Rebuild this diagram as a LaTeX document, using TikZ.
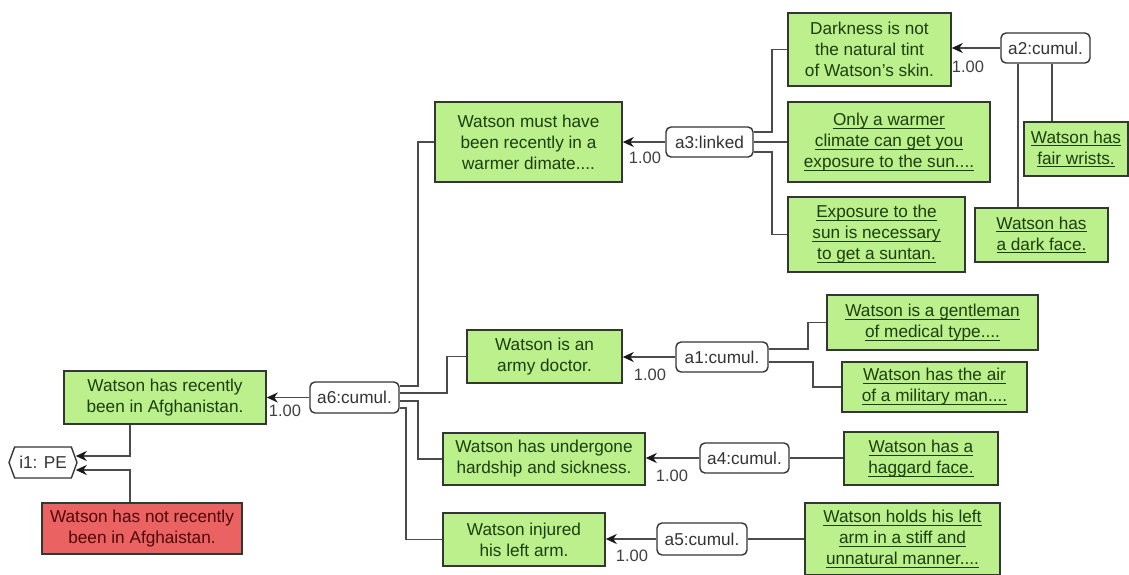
\documentclass[tikz,border=0pt]{standalone}
\usepackage{fontspec}
\setmainfont{Liberation Sans}
\usetikzlibrary{arrows.meta,calc,shapes.symbols}
\definecolor{gfill}{RGB}{187,240,140}
\definecolor{gtext}{RGB}{28,62,12}
\definecolor{rfill}{RGB}{234,98,98}
\definecolor{rtext}{RGB}{80,8,8}
\definecolor{bordc}{RGB}{50,55,50}
\definecolor{connc}{RGB}{75,75,75}
\newcommand{\mainf}{\fontsize{17.2}{21}\selectfont}
\newsavebox{\ulbox}
\newcommand{\ul}[1]{\leavevmode\sbox{\ulbox}{#1}\rlap{\rule[-3pt]{\wd\ulbox}{0.9pt}}\usebox{\ulbox}}
\begin{document}
\begin{tikzpicture}[x=1pt,y=-1pt,
  sz/.style 2 args={minimum width=#1, minimum height=#2},
  gbox/.style={draw=bordc, fill=gfill, text=gtext, line width=1.5pt, inner sep=0pt, align=center, font=\mainf},
  rbox/.style={gbox, fill=rfill, text=rtext},
  anode/.style={draw=bordc, fill=white, text=black!80, line width=1.4pt, rounded corners=5pt, inner sep=0pt, font=\mainf},
  conn/.style={draw=connc, line width=1.9pt},
  arr/.style={conn, -{Stealth[length=11pt,width=10pt,inset=3.5pt,color=black!90]}},
  lab/.style={font=\fontsize{16.5}{19}\selectfont, text=black!75, inner sep=0pt}]
\useasboundingbox (0,0) rectangle (1129,574);
\fill[white] (0,0) rectangle (1129,574);

% nodes
\node[gbox, sz={202}{53}] (hasrec) at (165,397.5) {Watson has recently\\been in Afghanistan.};
\node[draw=bordc, fill=white, line width=1.4pt, shape=signal, signal to=west and east, signal pointer angle=140, sz={68}{31}, inner sep=0pt, font=\mainf, text=black!80] (i1) at (43,462.5) {i1: PE};
\node[rbox, sz={200}{51}] (red) at (142,528.5) {Watson has not recently\\been in Afghaistan.};
\node[anode, sz={89}{31}] (a6) at (354.5,397.5) {a6:cumul.};

\node[gbox, sz={187}{80}] (warmer) at (528.5,142) {Watson must have\\been recently in a\\warmer dimate....};
\node[gbox, sz={155}{53}] (army) at (544.5,356.5) {Watson is an\\army doctor.};
\node[gbox, sz={202}{52}] (hardship) at (544,459) {Watson has undergone\\hardship and sickness.};
\node[gbox, sz={162}{53}] (injured) at (524,539.5) {Watson injured\\his left arm.};

\node[anode, sz={87}{30}] (a3) at (709.5,142) {a3:linked};
\node[gbox, sz={163}{73}] (dark) at (869.5,49.5) {Darkness is not\\the natural tint\\of Watson's skin.};
\node[gbox, sz={202}{80}] (only) at (889,142) {\ul{Only a warmer}\\\ul{climate can get you}\\\ul{exposure to the sun....}};
\node[gbox, sz={177}{75}] (expo) at (876.5,234.5) {\ul{Exposure to the}\\\ul{sun is necessary}\\\ul{to get a suntan.}};
\node[anode, sz={89}{30}] (a2) at (1045.5,48) {a2:cumul.};
\node[gbox, sz={104}{54}] (fair) at (1076,149) {\ul{Watson has}\\\ul{fair wrists.}};
\node[gbox, sz={133}{54}] (darkface) at (1041.5,235) {\ul{Watson has}\\\ul{a dark face.}};

\node[anode, sz={92}{30}] (a1) at (722,357) {a1:cumul.};
\node[gbox, sz={211}{55}] (gent) at (932.5,322.5) {\ul{Watson is a gentleman}\\\ul{of medical type....}};
\node[gbox, sz={185}{50}] (air) at (934.5,387) {\ul{Watson has the air}\\\ul{of a military man....}};
\node[anode, sz={89}{30}] (a4) at (744.5,458) {a4:cumul.};
\node[gbox, sz={154}{53}] (haggard) at (921,458.5) {\ul{Watson has a}\\\ul{haggard face.}};
\node[anode, sz={90}{32}] (a5) at (702,539) {a5:cumul.};
\node[gbox, sz={195}{72}] (holds) at (902.5,539) {\ul{Watson holds his left}\\\ul{arm in a stiff and}\\\ul{unnatural manner....}};

% labels
\node[lab] (l6) at (285,411) {1.00};
\node[lab] (l3) at (645,158) {1.00};
\node[lab] (l2) at (968,67) {1.00};
\node[lab] (l1) at (650,375) {1.00};
\node[lab] (l4) at (672,476) {1.00};
\node[lab] (l5) at (632,556) {1.00};

% connectors
\draw[arr] (a6.west) -- (hasrec.east);
\draw[conn] ($(a6.east)+(0,-11.5)$) -- ++(18,0) |- (warmer.west);
\draw[conn] ($(a6.east)+(0,-4.5)$) -- ++(47,0) |- (army.west);
\draw[conn] ($(a6.east)+(0,3.5)$) -- ++(18,0) |- (hardship.west);
\draw[conn] ($(a6.east)+(0,10.5)$) -- ++(6,0) |- (injured.west);

\draw[arr] (a3.west) -- (warmer.east);
\draw[conn] ($(a3.east)+(0,-10)$) -- ++(18,0) |- (dark.west);
\draw[conn] (a3.east) -- (only.west);
\draw[conn] ($(a3.east)+(0,10)$) -- ++(18,0) |- (expo.west);

\draw[arr] (a2.west) -- (dark.east |- a2.west);
\coordinate (a2r) at ($(a2.south)+(6.5,0)$);
\coordinate (a2l) at ($(a2.south)+(-27.5,0)$);
\draw[conn] (a2r) -- (a2r |- fair.north);
\draw[conn] (a2l) -- (a2l |- darkface.north);

\draw[arr] (a1.west) -- (army.east |- a1.west);
\draw[conn] ($(a1.east)+(0,-8)$) -- ++(39,0) |- (gent.west);
\draw[conn] ($(a1.east)+(0,5)$) -- ++(44,0) |- (air.west);

\draw[arr] (a4.west) -- (hardship.east |- a4.west);
\draw[conn] (a4.east) -- (haggard.west |- a4.east);

\draw[arr] (a5.west) -- (injured.east |- a5.west);
\draw[conn] (a5.east) -- (holds.west |- a5.east);

\coordinate (h1) at ($(hasrec.south)+(-35,0)$);
\coordinate (r1) at ($(red.north)+(-12,0)$);
\draw[arr] (h1) |- ($(i1.east)+(-2,-6.5)$);
\draw[arr] (r1) |- ($(i1.east)+(-2,7.5)$);
\end{tikzpicture}
\end{document}
